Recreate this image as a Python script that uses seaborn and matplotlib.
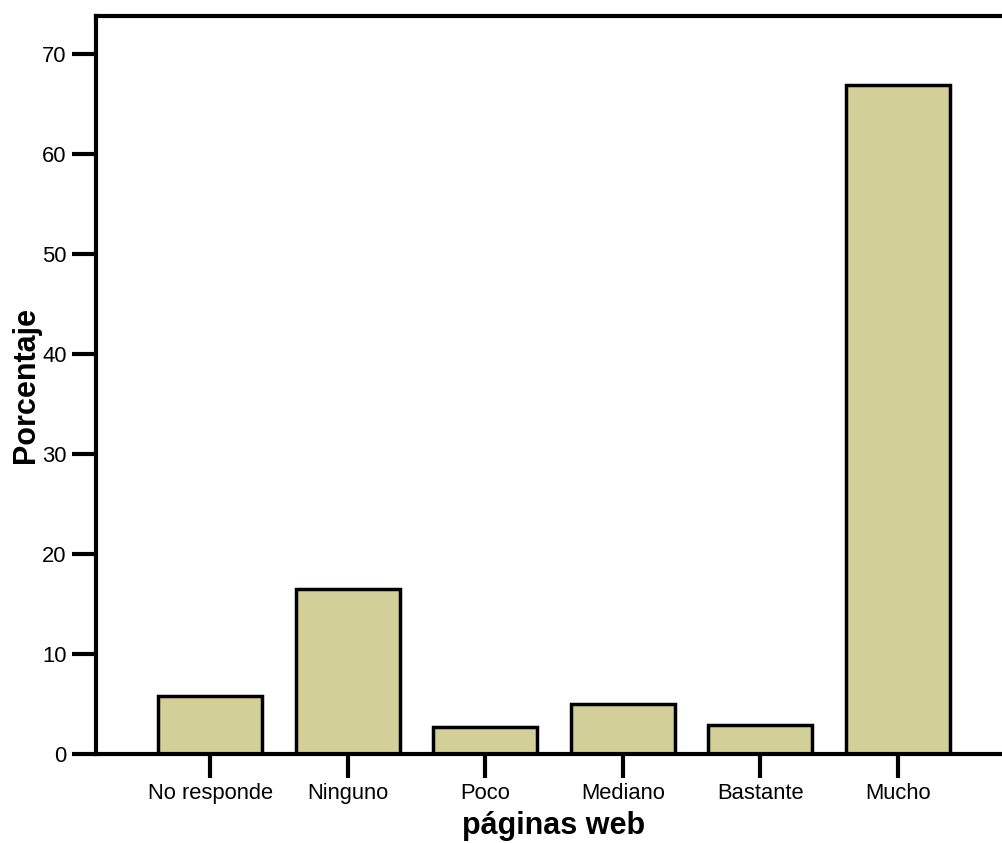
import matplotlib
matplotlib.use("Agg")
import matplotlib.pyplot as plt
import seaborn as sns
import pandas as pd

categories = ["No responde", "Ninguno", "Poco", "Mediano", "Bastante", "Mucho"]
values = [5.8, 16.5, 2.7, 5.0, 2.9, 66.9]
yticks = [0, 10, 20, 30, 40, 50, 60, 70]

sns.set_theme(style="white")
plt.rcParams['font.family'] = ['Liberation Sans', 'DejaVu Sans']

df = pd.DataFrame({"cat": categories, "val": values})

fig = plt.figure(figsize=(10.02, 8.43), dpi=100)
ax = fig.add_axes([96/1002, 1-754/843, 1 - 96/1002 + 0.01, (754-16)/843])

sns.barplot(data=df, x="cat", y="val", order=categories, color="#D3CF98",
            saturation=1, width=0.756, edgecolor="black", linewidth=2.5, ax=ax)

ax.set_xlim(-0.83, 5.83)
ax.set_ylim(0, 73.8)
ax.set_yticks(yticks)
ax.set_yticklabels([str(t) for t in yticks])

for s in ["left", "bottom", "top"]:
    ax.spines[s].set_visible(True)
    ax.spines[s].set_color("black")
    ax.spines[s].set_linewidth(3)
ax.spines["right"].set_visible(False)

ax.tick_params(axis="both", which="both", direction="out", length=17, width=3,
               color="black", labelsize=15.8, labelcolor="black", pad=4,
               left=True, bottom=True)

ax.set_xlabel("páginas web", fontsize=22, fontweight="bold", color="black", labelpad=5)
ax.set_ylabel("Porcentaje", fontsize=22, fontweight="bold", color="black", labelpad=1)
ax.grid(False)

fig.savefig("out.png", dpi=100)
